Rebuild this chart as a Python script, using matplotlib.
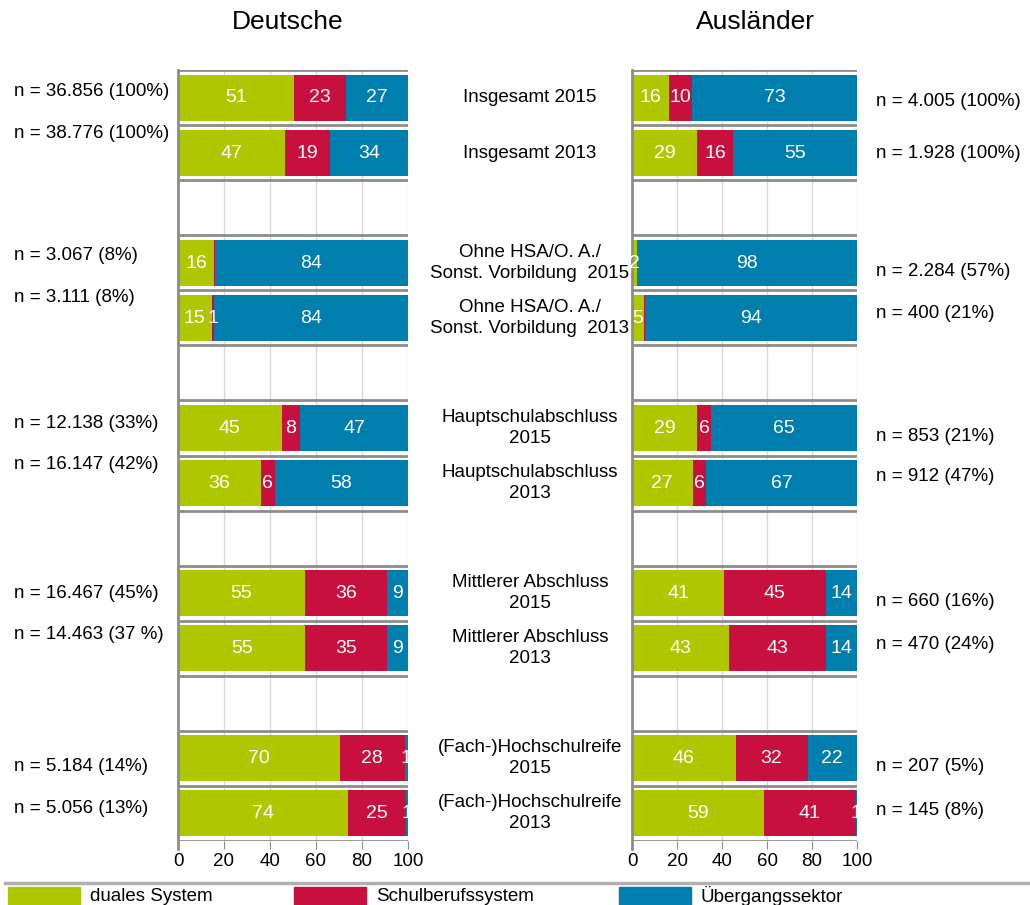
import numpy as np
import matplotlib
matplotlib.use('Agg')
from matplotlib import pyplot as plt
from matplotlib.patches import Rectangle
from matplotlib.lines import Line2D
from matplotlib.transforms import blended_transform_factory

plt.rcParams['font.family'] = ['Liberation Sans', 'DejaVu Sans']
plt.rcParams['font.size'] = 13.5

# Kategorien (von oben nach unten), None = Leerzeile zwischen den Gruppen
zeilen = ['Insgesamt 2015', 'Insgesamt 2013', None,
          'Ohne HSA/O. A./\nSonst. Vorbildung  2015', 'Ohne HSA/O. A./\nSonst. Vorbildung  2013', None,
          'Hauptschulabschluss\n2015', 'Hauptschulabschluss\n2013', None,
          'Mittlerer Abschluss\n2015', 'Mittlerer Abschluss\n2013', None,
          '(Fach-)Hochschulreife\n2015', '(Fach-)Hochschulreife\n2013']

serien = ['duales System', 'Schulberufssystem', 'Übergangssektor']
farben = ['#AFC700', '#C8103F', '#007EAE']

# Deutsche (Anteile in %)
de_dual = [50.6, 46.6, 15.7, 14.6, 45.0, 36.0, 55.0, 55.4, 70.3, 74.0]
de_schul = [22.6, 19.4, 0.3, 1.0, 8.0, 6.0, 36.0, 35.4, 28.3, 25.0]
de_ueber = [26.8, 34.0, 84.0, 84.4, 47.0, 58.0, 9.0, 9.2, 1.4, 1.0]
de_n = ['n = 36.856 (100%)', 'n = 38.776 (100%)', 'n = 3.067 (8%)', 'n = 3.111 (8%)',
        'n = 12.138 (33%)', 'n = 16.147 (42%)', 'n = 16.467 (45%)', 'n = 14.463 (37 %)',
        'n = 5.184 (14%)', 'n = 5.056 (13%)']

# Ausländer (Anteile in %)
au_dual = [16.3, 29.0, 2.0, 5.4, 29.0, 27.0, 41.0, 43.0, 46.0, 58.6]
au_schul = [10.3, 16.0, 0.0, 0.4, 6.0, 6.0, 45.0, 43.0, 32.0, 40.8]
au_ueber = [73.4, 55.0, 98.0, 94.2, 65.0, 67.0, 14.0, 14.0, 22.0, 0.6]
au_n = ['n = 4.005 (100%)', 'n = 1.928 (100%)', 'n = 2.284 (57%)', 'n = 400 (21%)',
        'n = 853 (21%)', 'n = 912 (47%)', 'n = 660 (16%)', 'n = 470 (24%)',
        'n = 207 (5%)', 'n = 145 (8%)']

# Versatz der n-Beschriftungen (in Zeilenhöhen, positiv = nach unten)
de_versatz = [-0.11, -0.36, -0.14, -0.38, -0.09, -0.33, 0.0, -0.25, 0.16, -0.09]
au_versatz = [0.07, 0.0, 0.15, -0.09, 0.15, -0.11, 0.16, -0.07, 0.16, -0.05]

pos = [i for i, z in enumerate(zeilen) if z is not None]
nrows = len(zeilen)

fig = plt.figure(figsize=(10.3, 9.05), dpi=100)
ax1 = fig.add_axes([178/1030, 1-840.5/905, 230/1030, 770/905])
ax2 = fig.add_axes([632/1030, 1-840.5/905, 225/1030, 770/905])


def zeichne(ax, werte):
    ax.set_xlim(0, 100)
    ax.set_ylim(nrows - 0.5, -0.5)
    links = np.zeros(len(pos))
    for w, f in zip(werte, farben):
        w = np.array(w)
        ax.barh(pos, w, left=links, height=0.84, color=f, zorder=2)
        for y, l, v in zip(pos, links, w):
            if round(v) >= 1:
                ax.text(l + v / 2, y, str(int(round(v))), color='white',
                        ha='center', va='center', fontsize=14, zorder=3)
        links = links + w
    for x in [20, 40, 60, 80, 100]:
        ax.axvline(x, color='#d9d9d9', lw=1, zorder=0)
    for k in range(nrows + 1):
        ax.axhline(k - 0.5, color='#8c8c8c', lw=2, zorder=1)
    ax.set_yticks([])
    ax.set_xticks([0, 20, 40, 60, 80, 100])
    ax.tick_params(axis='x', direction='out', length=6, color='#8c8c8c', labelsize=13.5, pad=3)
    for s in ['right', 'bottom', 'top']:
        ax.spines[s].set_visible(False)
    ax.spines['left'].set_color('#8c8c8c')
    ax.spines['left'].set_linewidth(2)
    ax.spines['left'].set_bounds(nrows - 0.5 + 0.15, -0.5)


zeichne(ax1, [de_dual, de_schul, de_ueber])
zeichne(ax2, [au_dual, au_schul, au_ueber])

fig.text(288/1030, 1-22/905, 'Deutsche', ha='center', va='center', fontsize=19)
fig.text(755/1030, 1-22/905, 'Ausländer', ha='center', va='center', fontsize=19)

trans1 = blended_transform_factory(fig.transFigure, ax1.transData)
trans2 = blended_transform_factory(fig.transFigure, ax2.transData)

# Kategorien in der Mitte
for y in pos:
    ax1.text(530/1030, y, zeilen[y], transform=trans1,
             ha='center', va='center', fontsize=13.5, linespacing=1.25, clip_on=False)

# n-Beschriftungen
for y, t, d in zip(pos, de_n, de_versatz):
    ax1.text(14/1030, y + d, t, transform=trans1, ha='left', va='center', fontsize=13.5, clip_on=False)
for y, t, d in zip(pos, au_n, au_versatz):
    ax2.text(876/1030, y + d, t, transform=trans2, ha='left', va='center', fontsize=13.5, clip_on=False)

# Legende
fig.add_artist(Line2D([5/1030, 1], [1-883/905, 1-883/905], color='#b0b0b0', lw=2.5,
                      transform=fig.transFigure))
leg_x = [8, 294, 619]
for x, f, s in zip(leg_x, farben, serien):
    fig.add_artist(Rectangle((x/1030, 0), 72/1030, 18/905, color=f, transform=fig.transFigure))
    fig.text((x + 82)/1030, 9/905, s, ha='left', va='center', fontsize=13.5)

fig.savefig('out.png', dpi=100)
